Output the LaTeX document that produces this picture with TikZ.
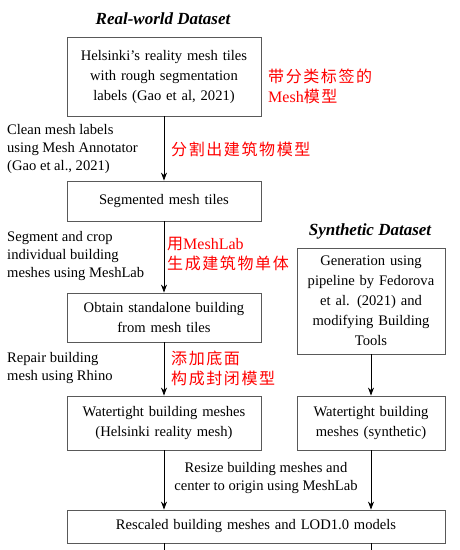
\documentclass[tikz,border=0pt]{standalone}
\usepackage{fontspec}
\setmainfont{Liberation Serif}
\newfontfamily\cjk[LetterSpace=10]{Noto Sans CJK SC}
\usetikzlibrary{arrows.meta}
\tikzset{
  box/.style={draw=black!65, line width=0.9pt, inner sep=0pt, align=center,
    font=\fontsize{14.6}{20}\selectfont},
  note/.style={anchor=west, align=left, inner sep=0pt,
    font=\fontsize{14.6}{18}\selectfont},
  rednote/.style={anchor=west, align=left, inner sep=0pt, text=red,
    font=\fontsize{16}{20}\selectfont},
  flow/.style={-{Stealth[length=8pt,width=6pt]}, line width=0.7pt},
  heading/.style={inner sep=0pt, font=\fontsize{17}{20}\selectfont\bfseries\itshape}
}
\begin{document}
\begin{tikzpicture}[x=1pt,y=-1pt]
\useasboundingbox (0,0) rectangle (459,550);

% real-world branch
\node[heading] (realtitle) at (163,19) {Real-world Dataset};
\node[box, minimum width=194pt, minimum height=79pt, text width=188pt] (tiles) at (164,76.5)
  {Helsinki's reality mesh tiles\\with rough segmentation\\labels (Gao et al, 2021)};
\node[box, minimum width=194pt, minimum height=40pt, text width=188pt] (segtiles) at (164,201)
  {Segmented mesh tiles};
\node[box, minimum width=194pt, minimum height=49pt, text width=188pt] (standalone) at (164,317.5)
  {Obtain standalone building\\from mesh tiles};
\node[box, minimum width=194pt, minimum height=54pt, text width=188pt] (realwt) at (164,423)
  {Watertight building meshes\\(Helsinki reality mesh)};

% synthetic branch
\node[heading] (syntitle) at (370,231) {Synthetic Dataset};
\node[box, minimum width=148pt, minimum height=106pt, text width=144pt] (gen) at (371,301)
  {Generation using\\pipeline by Fedorova\\et al. (2021) and\\modifying Building\\Tools};
\node[box, minimum width=148pt, minimum height=54pt, text width=144pt] (synwt) at (371,423)
  {Watertight building\\meshes (synthetic)};

\node[box, minimum width=378pt, minimum height=33pt, text width=370pt] (rescaled) at (256,526.5)
  {Rescaled building meshes and LOD1.0 models};

% step notes
\node[note] (clean) at (7,149) {Clean mesh labels\\using Mesh Annotator\\(Gao et al., 2021)};
\node[note] (crop) at (7,256) {Segment and crop\\individual building\\meshes using MeshLab};
\node[note] (repair) at (7,368) {Repair building\\mesh using Rhino};
\node[note, anchor=center, align=center] (resize) at (266,478)
  {Resize building meshes and\\center to origin using MeshLab};

\node[rednote] (cn1) at (268,86) {{\cjk 带分类标签的}\\Mesh{\cjk 模型}};
\node[rednote] (cn2) at (171,149) {{\cjk 分割出建筑物模型}};
\node[rednote] (cn3) at (167,254) {{\cjk 用}MeshLab\\{\cjk 生成建筑物单体}};
\node[rednote] (cn4) at (171,368) {{\cjk 添加底面}\\{\cjk 构成封闭模型}};

% connectors
\draw[flow] (tiles) -- (segtiles);
\draw[flow] (segtiles) -- (standalone);
\draw[flow] (standalone) -- (realwt);
\draw[flow] (gen) -- (synwt);
\draw[flow] (realwt.south) -- (realwt.south |- rescaled.north);
\draw[flow] (synwt.south) -- (synwt.south |- rescaled.north);
\coordinate (realend) at (164,552);
\coordinate (synend) at (371,552);
\draw[line width=0.7pt] (rescaled.south -| realwt) -- (realend);
\draw[line width=0.7pt] (rescaled.south -| synwt) -- (synend);
\end{tikzpicture}
\end{document}
